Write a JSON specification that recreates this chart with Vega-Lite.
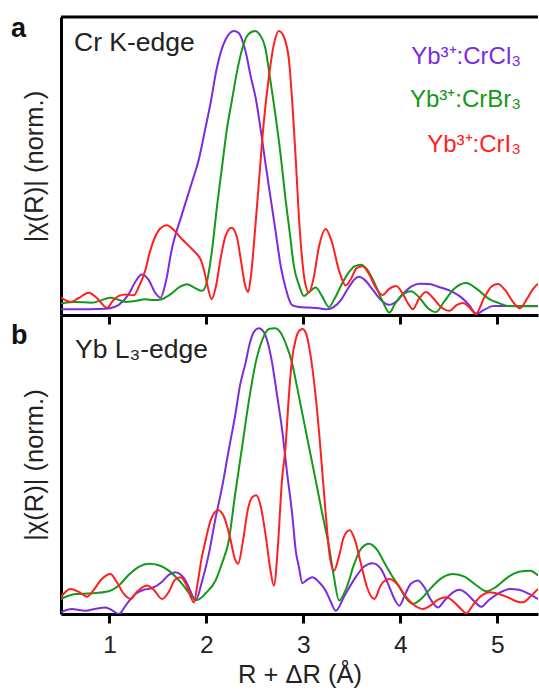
{
  "$schema": "https://vega.github.io/schema/vega-lite/v6.json",
  "padding": {"left": 10, "top": 14, "right": 0, "bottom": 0},
  "background": "white",
  "spacing": 0,
  "bounds": "flush",
  "config": {
    "view": {"stroke": null},
    "font": "Liberation Sans",
    "axis": {"grid": false, "domainColor": "black", "domainWidth": 3, "tickColor": "black", "tickWidth": 3, "tickSize": 9, "labelFont": "Liberation Sans", "labelFontSize": 24.5, "labelColor": "#222", "titleFont": "Liberation Sans", "titleFontSize": 25.5, "titleFontWeight": "normal", "titleColor": "#222"},
    "line": {"strokeWidth": 2}
  },
  "datasets": {
    "a": [
      {"s":"CrCl3","r":0.497,"v":1.9},{"s":"CrCl3","r":0.683,"v":1.9},{"s":"CrCl3","r":0.890,"v":2.0},{"s":"CrCl3","r":0.993,"v":2.2},{"s":"CrCl3","r":1.096,"v":3.4},{"s":"CrCl3","r":1.199,"v":7.0},{"s":"CrCl3","r":1.272,"v":11.4},{"s":"CrCl3","r":1.333,"v":13.6},{"s":"CrCl3","r":1.406,"v":11.7},{"s":"CrCl3","r":1.467,"v":7.7},{"s":"CrCl3","r":1.526,"v":5.8},{"s":"CrCl3","r":1.581,"v":11.1},{"s":"CrCl3","r":1.643,"v":22.1},{"s":"CrCl3","r":1.746,"v":33.6},{"s":"CrCl3","r":1.849,"v":44.4},{"s":"CrCl3","r":1.922,"v":52.3},{"s":"CrCl3","r":1.994,"v":63.4},{"s":"CrCl3","r":2.045,"v":71.5},{"s":"CrCl3","r":2.097,"v":81.2},{"s":"CrCl3","r":2.149,"v":88.3},{"s":"CrCl3","r":2.200,"v":92.6},{"s":"CrCl3","r":2.241,"v":94.6},{"s":"CrCl3","r":2.283,"v":95.3},{"s":"CrCl3","r":2.334,"v":94.6},{"s":"CrCl3","r":2.376,"v":91.6},{"s":"CrCl3","r":2.407,"v":88.0},{"s":"CrCl3","r":2.458,"v":79.9},{"s":"CrCl3","r":2.510,"v":72.5},{"s":"CrCl3","r":2.562,"v":61.7},{"s":"CrCl3","r":2.613,"v":50.0},{"s":"CrCl3","r":2.665,"v":38.6},{"s":"CrCl3","r":2.716,"v":27.5},{"s":"CrCl3","r":2.768,"v":16.1},{"s":"CrCl3","r":2.820,"v":8.7},{"s":"CrCl3","r":2.850,"v":5.4},{"s":"CrCl3","r":2.884,"v":3.3},{"s":"CrCl3","r":2.954,"v":2.7},{"s":"CrCl3","r":3.057,"v":2.5},{"s":"CrCl3","r":3.160,"v":2.3},{"s":"CrCl3","r":3.243,"v":1.9},{"s":"CrCl3","r":3.315,"v":2.7},{"s":"CrCl3","r":3.387,"v":5.0},{"s":"CrCl3","r":3.470,"v":9.4},{"s":"CrCl3","r":3.531,"v":12.1},{"s":"CrCl3","r":3.573,"v":12.8},{"s":"CrCl3","r":3.635,"v":11.7},{"s":"CrCl3","r":3.717,"v":8.4},{"s":"CrCl3","r":3.800,"v":5.0},{"s":"CrCl3","r":3.882,"v":3.4},{"s":"CrCl3","r":3.965,"v":4.7},{"s":"CrCl3","r":4.037,"v":7.4},{"s":"CrCl3","r":4.120,"v":9.7},{"s":"CrCl3","r":4.197,"v":10.5},{"s":"CrCl3","r":4.295,"v":10.4},{"s":"CrCl3","r":4.398,"v":9.4},{"s":"CrCl3","r":4.543,"v":7.7},{"s":"CrCl3","r":4.625,"v":6.0},{"s":"CrCl3","r":4.708,"v":3.4},{"s":"CrCl3","r":4.785,"v":0.4},{"s":"CrCl3","r":4.863,"v":1.7},{"s":"CrCl3","r":4.956,"v":3.0},{"s":"CrCl3","r":5.121,"v":3.0},{"s":"CrCl3","r":5.276,"v":2.9},{"s":"CrCl3","r":5.420,"v":2.9},
      {"s":"CrBr3","r":0.497,"v":3.9},{"s":"CrBr3","r":0.652,"v":4.4},{"s":"CrBr3","r":0.817,"v":4.1},{"s":"CrBr3","r":0.921,"v":5.0},{"s":"CrBr3","r":1.010,"v":5.8},{"s":"CrBr3","r":1.086,"v":5.2},{"s":"CrBr3","r":1.165,"v":4.4},{"s":"CrBr3","r":1.261,"v":4.7},{"s":"CrBr3","r":1.372,"v":5.3},{"s":"CrBr3","r":1.457,"v":5.0},{"s":"CrBr3","r":1.529,"v":5.2},{"s":"CrBr3","r":1.633,"v":7.0},{"s":"CrBr3","r":1.725,"v":9.4},{"s":"CrBr3","r":1.801,"v":10.3},{"s":"CrBr3","r":1.880,"v":9.1},{"s":"CrBr3","r":1.956,"v":8.1},{"s":"CrBr3","r":2.004,"v":11.1},{"s":"CrBr3","r":2.059,"v":22.0},{"s":"CrBr3","r":2.108,"v":36.2},{"s":"CrBr3","r":2.162,"v":50.0},{"s":"CrBr3","r":2.210,"v":62.1},{"s":"CrBr3","r":2.265,"v":72.4},{"s":"CrBr3","r":2.314,"v":81.5},{"s":"CrBr3","r":2.368,"v":89.2},{"s":"CrBr3","r":2.427,"v":94.0},{"s":"CrBr3","r":2.500,"v":95.3},{"s":"CrBr3","r":2.551,"v":94.0},{"s":"CrBr3","r":2.610,"v":89.2},{"s":"CrBr3","r":2.654,"v":79.9},{"s":"CrBr3","r":2.713,"v":66.8},{"s":"CrBr3","r":2.768,"v":53.0},{"s":"CrBr3","r":2.816,"v":38.8},{"s":"CrBr3","r":2.861,"v":27.2},{"s":"CrBr3","r":2.902,"v":16.4},{"s":"CrBr3","r":2.954,"v":10.1},{"s":"CrBr3","r":3.005,"v":6.4},{"s":"CrBr3","r":3.057,"v":7.7},{"s":"CrBr3","r":3.127,"v":9.2},{"s":"CrBr3","r":3.191,"v":6.4},{"s":"CrBr3","r":3.263,"v":2.7},{"s":"CrBr3","r":3.325,"v":5.7},{"s":"CrBr3","r":3.397,"v":10.4},{"s":"CrBr3","r":3.470,"v":14.4},{"s":"CrBr3","r":3.531,"v":16.4},{"s":"CrBr3","r":3.594,"v":16.9},{"s":"CrBr3","r":3.655,"v":15.4},{"s":"CrBr3","r":3.738,"v":10.4},{"s":"CrBr3","r":3.820,"v":4.4},{"s":"CrBr3","r":3.887,"v":0.8},{"s":"CrBr3","r":3.944,"v":3.7},{"s":"CrBr3","r":4.027,"v":7.0},{"s":"CrBr3","r":4.109,"v":8.0},{"s":"CrBr3","r":4.192,"v":6.0},{"s":"CrBr3","r":4.285,"v":2.3},{"s":"CrBr3","r":4.368,"v":1.0},{"s":"CrBr3","r":4.450,"v":4.4},{"s":"CrBr3","r":4.553,"v":8.7},{"s":"CrBr3","r":4.677,"v":10.7},{"s":"CrBr3","r":4.791,"v":8.7},{"s":"CrBr3","r":4.914,"v":5.4},{"s":"CrBr3","r":5.018,"v":4.0},{"s":"CrBr3","r":5.121,"v":3.0},{"s":"CrBr3","r":5.276,"v":3.0},{"s":"CrBr3","r":5.420,"v":3.0},
      {"s":"CrI3","r":0.497,"v":5.9},{"s":"CrI3","r":0.598,"v":4.4},{"s":"CrI3","r":0.683,"v":5.7},{"s":"CrI3","r":0.786,"v":7.5},{"s":"CrI3","r":0.879,"v":5.4},{"s":"CrI3","r":0.975,"v":2.4},{"s":"CrI3","r":1.034,"v":4.7},{"s":"CrI3","r":1.096,"v":6.4},{"s":"CrI3","r":1.168,"v":6.9},{"s":"CrI3","r":1.251,"v":6.6},{"s":"CrI3","r":1.302,"v":9.4},{"s":"CrI3","r":1.372,"v":15.3},{"s":"CrI3","r":1.416,"v":21.1},{"s":"CrI3","r":1.475,"v":26.5},{"s":"CrI3","r":1.529,"v":29.2},{"s":"CrI3","r":1.594,"v":30.1},{"s":"CrI3","r":1.664,"v":28.5},{"s":"CrI3","r":1.749,"v":25.4},{"s":"CrI3","r":1.818,"v":23.2},{"s":"CrI3","r":1.887,"v":20.9},{"s":"CrI3","r":1.942,"v":18.5},{"s":"CrI3","r":1.973,"v":15.3},{"s":"CrI3","r":2.014,"v":9.4},{"s":"CrI3","r":2.053,"v":5.3},{"s":"CrI3","r":2.097,"v":9.4},{"s":"CrI3","r":2.149,"v":19.5},{"s":"CrI3","r":2.200,"v":26.8},{"s":"CrI3","r":2.259,"v":29.3},{"s":"CrI3","r":2.314,"v":26.2},{"s":"CrI3","r":2.355,"v":18.5},{"s":"CrI3","r":2.396,"v":10.4},{"s":"CrI3","r":2.430,"v":7.7},{"s":"CrI3","r":2.458,"v":12.8},{"s":"CrI3","r":2.500,"v":27.9},{"s":"CrI3","r":2.541,"v":44.4},{"s":"CrI3","r":2.592,"v":64.8},{"s":"CrI3","r":2.644,"v":79.9},{"s":"CrI3","r":2.696,"v":90.9},{"s":"CrI3","r":2.747,"v":95.3},{"s":"CrI3","r":2.799,"v":93.3},{"s":"CrI3","r":2.851,"v":85.6},{"s":"CrI3","r":2.892,"v":68.1},{"s":"CrI3","r":2.923,"v":51.3},{"s":"CrI3","r":2.954,"v":32.9},{"s":"CrI3","r":2.985,"v":19.5},{"s":"CrI3","r":3.016,"v":11.1},{"s":"CrI3","r":3.057,"v":7.5},{"s":"CrI3","r":3.108,"v":12.8},{"s":"CrI3","r":3.160,"v":22.8},{"s":"CrI3","r":3.230,"v":28.9},{"s":"CrI3","r":3.294,"v":24.5},{"s":"CrI3","r":3.366,"v":15.1},{"s":"CrI3","r":3.437,"v":9.9},{"s":"CrI3","r":3.490,"v":12.1},{"s":"CrI3","r":3.552,"v":15.8},{"s":"CrI3","r":3.610,"v":16.4},{"s":"CrI3","r":3.676,"v":13.8},{"s":"CrI3","r":3.748,"v":9.1},{"s":"CrI3","r":3.817,"v":6.7},{"s":"CrI3","r":3.882,"v":8.7},{"s":"CrI3","r":3.955,"v":9.7},{"s":"CrI3","r":4.027,"v":7.0},{"s":"CrI3","r":4.089,"v":3.4},{"s":"CrI3","r":4.128,"v":1.9},{"s":"CrI3","r":4.192,"v":5.4},{"s":"CrI3","r":4.264,"v":7.7},{"s":"CrI3","r":4.337,"v":5.7},{"s":"CrI3","r":4.419,"v":2.7},{"s":"CrI3","r":4.508,"v":1.4},{"s":"CrI3","r":4.584,"v":3.4},{"s":"CrI3","r":4.646,"v":4.0},{"s":"CrI3","r":4.708,"v":2.7},{"s":"CrI3","r":4.780,"v":0.4},{"s":"CrI3","r":4.863,"v":5.7},{"s":"CrI3","r":4.945,"v":9.7},{"s":"CrI3","r":5.007,"v":10.4},{"s":"CrI3","r":5.080,"v":8.4},{"s":"CrI3","r":5.162,"v":4.4},{"s":"CrI3","r":5.232,"v":2.3},{"s":"CrI3","r":5.306,"v":5.4},{"s":"CrI3","r":5.368,"v":8.7},{"s":"CrI3","r":5.420,"v":10.5}
    ],
    "b": [
      {"s":"CrCl3","r":0.497,"v":0.6},{"s":"CrCl3","r":0.614,"v":1.7},{"s":"CrCl3","r":0.683,"v":1.3},{"s":"CrCl3","r":0.752,"v":1.1},{"s":"CrCl3","r":0.848,"v":1.7},{"s":"CrCl3","r":0.959,"v":2.2},{"s":"CrCl3","r":1.024,"v":1.3},{"s":"CrCl3","r":1.096,"v":0.0},{"s":"CrCl3","r":1.179,"v":3.4},{"s":"CrCl3","r":1.268,"v":6.7},{"s":"CrCl3","r":1.354,"v":8.1},{"s":"CrCl3","r":1.440,"v":8.7},{"s":"CrCl3","r":1.540,"v":10.7},{"s":"CrCl3","r":1.612,"v":13.1},{"s":"CrCl3","r":1.681,"v":14.0},{"s":"CrCl3","r":1.736,"v":13.1},{"s":"CrCl3","r":1.784,"v":11.2},{"s":"CrCl3","r":1.829,"v":8.1},{"s":"CrCl3","r":1.888,"v":4.5},{"s":"CrCl3","r":1.953,"v":10.7},{"s":"CrCl3","r":2.025,"v":20.1},{"s":"CrCl3","r":2.087,"v":30.9},{"s":"CrCl3","r":2.162,"v":42.5},{"s":"CrCl3","r":2.231,"v":55.0},{"s":"CrCl3","r":2.300,"v":67.1},{"s":"CrCl3","r":2.345,"v":76.2},{"s":"CrCl3","r":2.403,"v":83.9},{"s":"CrCl3","r":2.448,"v":90.6},{"s":"CrCl3","r":2.489,"v":94.3},{"s":"CrCl3","r":2.541,"v":95.6},{"s":"CrCl3","r":2.592,"v":94.3},{"s":"CrCl3","r":2.634,"v":90.6},{"s":"CrCl3","r":2.678,"v":83.9},{"s":"CrCl3","r":2.727,"v":73.5},{"s":"CrCl3","r":2.781,"v":61.5},{"s":"CrCl3","r":2.830,"v":47.7},{"s":"CrCl3","r":2.884,"v":33.6},{"s":"CrCl3","r":2.923,"v":20.8},{"s":"CrCl3","r":2.954,"v":15.7},{"s":"CrCl3","r":2.989,"v":10.3},{"s":"CrCl3","r":3.036,"v":11.4},{"s":"CrCl3","r":3.092,"v":12.3},{"s":"CrCl3","r":3.160,"v":10.7},{"s":"CrCl3","r":3.230,"v":7.8},{"s":"CrCl3","r":3.284,"v":4.0},{"s":"CrCl3","r":3.334,"v":1.1},{"s":"CrCl3","r":3.418,"v":5.7},{"s":"CrCl3","r":3.521,"v":11.4},{"s":"CrCl3","r":3.624,"v":15.8},{"s":"CrCl3","r":3.714,"v":17.0},{"s":"CrCl3","r":3.800,"v":15.1},{"s":"CrCl3","r":3.882,"v":9.4},{"s":"CrCl3","r":3.944,"v":4.7},{"s":"CrCl3","r":3.990,"v":2.8},{"s":"CrCl3","r":4.047,"v":6.4},{"s":"CrCl3","r":4.109,"v":10.1},{"s":"CrCl3","r":4.180,"v":11.2},{"s":"CrCl3","r":4.244,"v":9.1},{"s":"CrCl3","r":4.316,"v":4.7},{"s":"CrCl3","r":4.387,"v":2.2},{"s":"CrCl3","r":4.460,"v":4.7},{"s":"CrCl3","r":4.533,"v":7.0},{"s":"CrCl3","r":4.612,"v":8.1},{"s":"CrCl3","r":4.687,"v":6.7},{"s":"CrCl3","r":4.770,"v":4.0},{"s":"CrCl3","r":4.836,"v":2.4},{"s":"CrCl3","r":4.914,"v":4.7},{"s":"CrCl3","r":5.018,"v":7.0},{"s":"CrCl3","r":5.130,"v":8.4},{"s":"CrCl3","r":5.224,"v":8.1},{"s":"CrCl3","r":5.327,"v":6.7},{"s":"CrCl3","r":5.420,"v":5.0},
      {"s":"CrBr3","r":0.497,"v":5.0},{"s":"CrBr3","r":0.649,"v":6.7},{"s":"CrBr3","r":0.820,"v":6.9},{"s":"CrBr3","r":0.993,"v":7.6},{"s":"CrBr3","r":1.096,"v":9.5},{"s":"CrBr3","r":1.199,"v":13.1},{"s":"CrBr3","r":1.302,"v":15.8},{"s":"CrBr3","r":1.406,"v":16.8},{"s":"CrBr3","r":1.509,"v":16.3},{"s":"CrBr3","r":1.612,"v":14.5},{"s":"CrBr3","r":1.684,"v":12.4},{"s":"CrBr3","r":1.749,"v":10.1},{"s":"CrBr3","r":1.829,"v":6.7},{"s":"CrBr3","r":1.904,"v":4.7},{"s":"CrBr3","r":1.994,"v":7.0},{"s":"CrBr3","r":2.094,"v":11.2},{"s":"CrBr3","r":2.159,"v":16.8},{"s":"CrBr3","r":2.231,"v":24.6},{"s":"CrBr3","r":2.293,"v":39.3},{"s":"CrBr3","r":2.368,"v":55.9},{"s":"CrBr3","r":2.437,"v":71.1},{"s":"CrBr3","r":2.507,"v":83.9},{"s":"CrBr3","r":2.572,"v":91.3},{"s":"CrBr3","r":2.644,"v":95.3},{"s":"CrBr3","r":2.706,"v":95.6},{"s":"CrBr3","r":2.768,"v":94.0},{"s":"CrBr3","r":2.820,"v":90.3},{"s":"CrBr3","r":2.884,"v":83.9},{"s":"CrBr3","r":2.933,"v":76.2},{"s":"CrBr3","r":2.989,"v":67.1},{"s":"CrBr3","r":3.057,"v":56.0},{"s":"CrBr3","r":3.127,"v":44.7},{"s":"CrBr3","r":3.191,"v":34.2},{"s":"CrBr3","r":3.265,"v":22.4},{"s":"CrBr3","r":3.315,"v":12.4},{"s":"CrBr3","r":3.368,"v":4.5},{"s":"CrBr3","r":3.449,"v":9.1},{"s":"CrBr3","r":3.521,"v":16.4},{"s":"CrBr3","r":3.594,"v":21.8},{"s":"CrBr3","r":3.679,"v":23.5},{"s":"CrBr3","r":3.759,"v":21.5},{"s":"CrBr3","r":3.841,"v":16.8},{"s":"CrBr3","r":3.913,"v":12.8},{"s":"CrBr3","r":3.990,"v":9.0},{"s":"CrBr3","r":4.058,"v":5.4},{"s":"CrBr3","r":4.128,"v":3.4},{"s":"CrBr3","r":4.213,"v":5.0},{"s":"CrBr3","r":4.316,"v":8.7},{"s":"CrBr3","r":4.429,"v":12.1},{"s":"CrBr3","r":4.543,"v":13.4},{"s":"CrBr3","r":4.667,"v":12.4},{"s":"CrBr3","r":4.780,"v":9.7},{"s":"CrBr3","r":4.889,"v":7.6},{"s":"CrBr3","r":4.987,"v":9.1},{"s":"CrBr3","r":5.100,"v":12.1},{"s":"CrBr3","r":5.224,"v":14.1},{"s":"CrBr3","r":5.337,"v":14.5},{"s":"CrBr3","r":5.420,"v":12.9},
      {"s":"CrI3","r":0.497,"v":5.6},{"s":"CrI3","r":0.598,"v":8.4},{"s":"CrI3","r":0.683,"v":7.4},{"s":"CrI3","r":0.769,"v":5.8},{"s":"CrI3","r":0.838,"v":8.1},{"s":"CrI3","r":0.921,"v":11.7},{"s":"CrI3","r":1.010,"v":13.4},{"s":"CrI3","r":1.075,"v":10.7},{"s":"CrI3","r":1.148,"v":6.7},{"s":"CrI3","r":1.217,"v":5.0},{"s":"CrI3","r":1.282,"v":7.4},{"s":"CrI3","r":1.388,"v":9.5},{"s":"CrI3","r":1.457,"v":8.1},{"s":"CrI3","r":1.543,"v":5.0},{"s":"CrI3","r":1.612,"v":7.4},{"s":"CrI3","r":1.674,"v":11.4},{"s":"CrI3","r":1.733,"v":12.3},{"s":"CrI3","r":1.787,"v":10.1},{"s":"CrI3","r":1.839,"v":5.7},{"s":"CrI3","r":1.870,"v":3.9},{"s":"CrI3","r":1.911,"v":10.7},{"s":"CrI3","r":1.953,"v":19.1},{"s":"CrI3","r":1.991,"v":24.6},{"s":"CrI3","r":2.045,"v":31.5},{"s":"CrI3","r":2.121,"v":34.7},{"s":"CrI3","r":2.180,"v":32.6},{"s":"CrI3","r":2.242,"v":25.8},{"s":"CrI3","r":2.293,"v":18.5},{"s":"CrI3","r":2.327,"v":16.8},{"s":"CrI3","r":2.376,"v":24.2},{"s":"CrI3","r":2.427,"v":34.9},{"s":"CrI3","r":2.469,"v":38.9},{"s":"CrI3","r":2.513,"v":39.7},{"s":"CrI3","r":2.561,"v":35.9},{"s":"CrI3","r":2.613,"v":25.8},{"s":"CrI3","r":2.655,"v":15.8},{"s":"CrI3","r":2.696,"v":9.5},{"s":"CrI3","r":2.737,"v":22.5},{"s":"CrI3","r":2.778,"v":44.3},{"s":"CrI3","r":2.816,"v":55.9},{"s":"CrI3","r":2.850,"v":72.8},{"s":"CrI3","r":2.881,"v":84.6},{"s":"CrI3","r":2.920,"v":91.7},{"s":"CrI3","r":2.954,"v":94.6},{"s":"CrI3","r":2.989,"v":95.3},{"s":"CrI3","r":3.026,"v":94.0},{"s":"CrI3","r":3.067,"v":87.9},{"s":"CrI3","r":3.127,"v":72.7},{"s":"CrI3","r":3.170,"v":57.7},{"s":"CrI3","r":3.230,"v":33.6},{"s":"CrI3","r":3.273,"v":19.1},{"s":"CrI3","r":3.317,"v":14.5},{"s":"CrI3","r":3.366,"v":19.1},{"s":"CrI3","r":3.418,"v":25.8},{"s":"CrI3","r":3.479,"v":28.0},{"s":"CrI3","r":3.531,"v":24.8},{"s":"CrI3","r":3.594,"v":16.8},{"s":"CrI3","r":3.655,"v":9.1},{"s":"CrI3","r":3.731,"v":5.0},{"s":"CrI3","r":3.800,"v":9.7},{"s":"CrI3","r":3.887,"v":11.7},{"s":"CrI3","r":3.965,"v":10.1},{"s":"CrI3","r":4.058,"v":5.7},{"s":"CrI3","r":4.140,"v":3.0},{"s":"CrI3","r":4.232,"v":1.7},{"s":"CrI3","r":4.316,"v":3.0},{"s":"CrI3","r":4.398,"v":5.0},{"s":"CrI3","r":4.474,"v":5.6},{"s":"CrI3","r":4.553,"v":4.0},{"s":"CrI3","r":4.625,"v":1.7},{"s":"CrI3","r":4.681,"v":0.2},{"s":"CrI3","r":4.749,"v":3.0},{"s":"CrI3","r":4.832,"v":6.0},{"s":"CrI3","r":4.923,"v":7.3},{"s":"CrI3","r":5.018,"v":6.7},{"s":"CrI3","r":5.121,"v":5.4},{"s":"CrI3","r":5.203,"v":4.2},{"s":"CrI3","r":5.268,"v":3.9},{"s":"CrI3","r":5.327,"v":5.4},{"s":"CrI3","r":5.420,"v":8.4}
    ]
  },
  "vconcat": [
    {
      "width": 477,
      "height": 298,
      "layer": [
        {
          "data": {"name": "a"},
          "mark": {"type": "line", "interpolate": "monotone", "clip": true},
          "encoding": {
            "x": {"field": "r", "type": "quantitative", "scale": {"domain": [0.5, 5.42], "nice": false, "zero": false}, "axis": {"orient": "bottom", "labels": false, "title": null, "values": [1, 2, 3, 4, 5]}},
            "y": {"field": "v", "type": "quantitative", "scale": {"domain": [0, 100], "nice": false}, "axis": {"labels": false, "ticks": false, "title": "|χ(R)| (norm.)", "titlePadding": 14}},
            "color": {"field": "s", "type": "nominal", "scale": {"domain": ["CrCl3", "CrBr3", "CrI3"], "range": ["#7b2be0", "#14991a", "#ff1f1f"]}, "legend": null}
          }
        },
        {
          "data": {"values": [{}]},
          "mark": {"type": "rule", "strokeWidth": 3, "color": "black"},
          "encoding": {"y": {"datum": 100}}
        },
        {
          "data": {"values": [{}]},
          "mark": {"type": "text", "text": "a", "fontSize": 27, "fontWeight": "bold", "align": "left", "baseline": "alphabetic", "color": "#111"},
          "encoding": {"x": {"datum": -0.016}, "y": {"datum": 93.3}}
        },
        {
          "data": {"values": [{}]},
          "mark": {"type": "text", "text": "Cr K-edge", "fontSize": 26.5, "align": "left", "baseline": "alphabetic", "color": "#222"},
          "encoding": {"x": {"datum": 0.634}, "y": {"datum": 88.6}}
        },
        {
          "data": {"values": [{}]},
          "mark": {"type": "text", "text": "Yb³⁺:CrCl₃", "fontSize": 24, "align": "right", "baseline": "alphabetic", "color": "#7b2be0"},
          "encoding": {"x": {"datum": 5.245}, "y": {"datum": 84.3}}
        },
        {
          "data": {"values": [{}]},
          "mark": {"type": "text", "text": "Yb³⁺:CrBr₃", "fontSize": 24, "align": "right", "baseline": "alphabetic", "color": "#14991a"},
          "encoding": {"x": {"datum": 5.245}, "y": {"datum": 69.8}}
        },
        {
          "data": {"values": [{}]},
          "mark": {"type": "text", "text": "Yb³⁺:CrI₃", "fontSize": 24, "align": "right", "baseline": "alphabetic", "color": "#ff1f1f"},
          "encoding": {"x": {"datum": 5.245}, "y": {"datum": 54.7}}
        }
      ]
    },
    {
      "width": 477,
      "height": 299,
      "layer": [
        {
          "data": {"name": "b"},
          "mark": {"type": "line", "interpolate": "monotone", "clip": true},
          "encoding": {
            "x": {"field": "r", "type": "quantitative", "scale": {"domain": [0.5, 5.42], "nice": false, "zero": false}, "axis": {"orient": "bottom", "title": "R + ΔR (Å)", "values": [1, 2, 3, 4, 5], "format": "d", "labelPadding": 10, "titlePadding": 6, "titleFontSize": 25.5}},
            "y": {"field": "v", "type": "quantitative", "scale": {"domain": [0, 100], "nice": false}, "axis": {"labels": false, "ticks": false, "title": "|χ(R)| (norm.)", "titlePadding": 14}},
            "color": {"field": "s", "type": "nominal", "scale": {"domain": ["CrCl3", "CrBr3", "CrI3"], "range": ["#7b2be0", "#14991a", "#ff1f1f"]}, "legend": null}
          }
        },
        {
          "data": {"values": [{}]},
          "mark": {"type": "text", "text": "b", "fontSize": 27, "fontWeight": "bold", "align": "left", "baseline": "alphabetic", "color": "#111"},
          "encoding": {"x": {"datum": -0.016}, "y": {"datum": 90.3}}
        },
        {
          "data": {"values": [{}]},
          "mark": {"type": "text", "text": "Yb L₃-edge", "fontSize": 26.5, "align": "left", "baseline": "alphabetic", "color": "#222"},
          "encoding": {"x": {"datum": 0.644}, "y": {"datum": 85.6}}
        }
      ]
    }
  ]
}
